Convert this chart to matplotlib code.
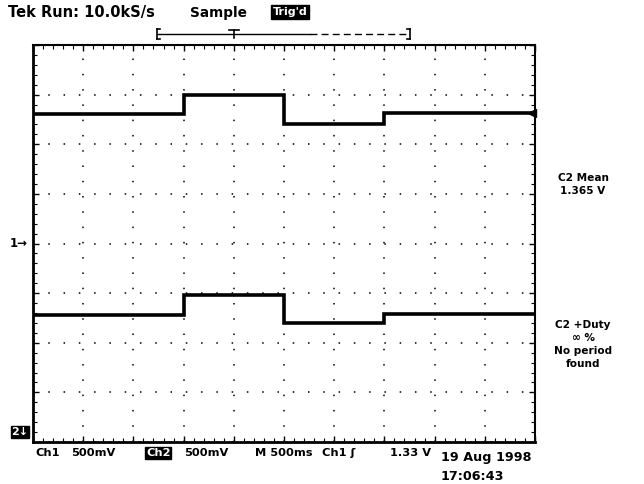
"""Tek scope screen capture: two channels stepping through three levels."""
import matplotlib
matplotlib.use("Agg")
import matplotlib.pyplot as plt
from matplotlib.ticker import MultipleLocator
from matplotlib.lines import Line2D

# step edges in seconds (M 500ms/div, 10 divisions)
t_edges = [0.0, 1.5, 2.5, 3.5, 5.0]
ch1_volts = [1.30, 1.50, 1.20, 1.31]
ch2_volts = [1.18, 1.38, 1.10, 1.19]
volts_per_div = 0.5
ch1_offset_div = 0.0
ch2_offset_div = -3.8

header = ["Tek Run: 10.0kS/s", "Sample"]
footer = ["Ch1", "500mV", "Ch2", "500mV", "M 500ms", "Ch1 \u0283", "1.33 V"]
stamp = ["19 Aug 1998", "17:06:43"]
mean_label = ["C2 Mean", "1.365 V"]
duty_label = ["C2 +Duty", "\u221e %", "No period", "found"]

W, H = 644, 484
fig = plt.figure(figsize=(W / 100, H / 100), dpi=100)
fig.patch.set_facecolor("white")

# graticule: x 33..535 px, y 45..442 px
ax = fig.add_axes([33 / W, (H - 442) / H, 502 / W, 397 / H])
ax.set_xlim(0, 5)
ax.set_ylim(-4, 4)
ax.xaxis.set_major_locator(MultipleLocator(0.5))
ax.yaxis.set_major_locator(MultipleLocator(1))
ax.xaxis.set_minor_locator(MultipleLocator(0.1))
ax.yaxis.set_minor_locator(MultipleLocator(0.2))
ax.tick_params(which="both", direction="in", top=True, right=True,
               labelbottom=False, labelleft=False, color="black")
ax.tick_params(which="major", length=4, width=1.0)
ax.tick_params(which="minor", length=3, width=0.8)
ax.grid(True, which="major", color="black", lw=1.1, ls=(0, (1, 9)))
for side, lw in (("left", 2.0), ("bottom", 2.0), ("top", 1.5), ("right", 1.5)):
    ax.spines[side].set_linewidth(lw)


def to_div(volts, offset):
    return [v / volts_per_div + offset for v in volts]


for volts, off in ((ch1_volts, ch1_offset_div), (ch2_volts, ch2_offset_div)):
    ys = to_div(volts, off)
    ax.step(t_edges, ys + [ys[-1]], where="post", color="black", lw=2.6,
            solid_joinstyle="miter")

font = dict(family="DejaVu Sans", fontweight="bold", color="black")


def ftext(x, y, s, size=9.5, ha="left", va="center", inverse=False, pad=0.05):
    t = fig.text(x / W, 1 - y / H, s, fontsize=size, ha=ha, va=va, **font)
    if inverse:
        t.set_color("white")
        t.set_bbox(dict(boxstyle=f"square,pad={pad}", fc="black", ec="black"))
    return t


ftext(8, 13, header[0], size=10.5)
ftext(190, 13, header[1], size=9.8)
ftext(290, 12, "Trig'd", size=8, ha="center", inverse=True, pad=0.15)

# record-length bar
y_bar = 1 - 34 / H
fig.add_artist(Line2D([157 / W, 310 / W], [y_bar, y_bar], color="black", lw=1.0))
fig.add_artist(Line2D([310 / W, 410 / W], [y_bar, y_bar], color="black", lw=1.0,
                      ls=(0, (5, 3))))
for xb, dx in ((157, 3), (410, -3)):
    fig.add_artist(Line2D([xb / W, xb / W], [y_bar - 5 / H, y_bar + 5 / H],
                          color="black", lw=1.2))
    fig.add_artist(Line2D([xb / W, (xb + dx) / W], [y_bar + 5 / H, y_bar + 5 / H],
                          color="black", lw=1.2))
    fig.add_artist(Line2D([xb / W, (xb + dx) / W], [y_bar - 5 / H, y_bar - 5 / H],
                          color="black", lw=1.2))
fig.add_artist(Line2D([229 / W, 239 / W], [y_bar + 4 / H, y_bar + 4 / H],
                      color="black", lw=1.2))
fig.add_artist(Line2D([234 / W, 234 / W], [y_bar + 4 / H, y_bar - 4 / H],
                      color="black", lw=1.2))

# channel markers
ftext(10, 243, "1\u2192", size=8.5)
ftext(20, 432, "2\u2193", size=8, ha="center", inverse=True)
ax.plot([4.97], [to_div([1.31], 0)[0]], marker="<", ms=6, color="black",
        clip_on=False)

# footer
xs = [35, 71, 146, 184, 255, 322, 390]
for i, (x, s) in enumerate(zip(xs, footer)):
    ftext(x, 453, s, size=8.2, inverse=(i == 2))
ftext(441, 457, stamp[0], size=9.2)
ftext(441, 476, stamp[1], size=9.2)

# measurements
ftext(583, 178, mean_label[0], size=7.6, ha="center")
ftext(583, 191, mean_label[1], size=7.6, ha="center")
for i, s in enumerate(duty_label):
    ftext(583, 325 + 13 * i, s, size=7.6, ha="center")

fig.savefig("out.png", dpi=100)
